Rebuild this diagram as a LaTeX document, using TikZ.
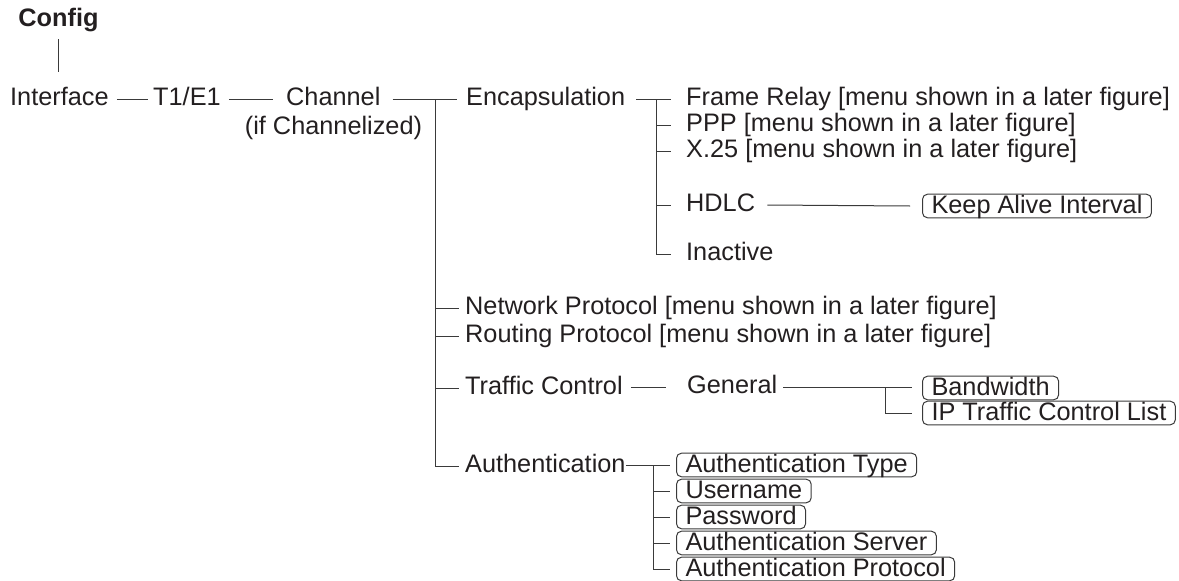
\documentclass[tikz,border=0pt]{standalone}
\usepackage{fontspec}
\setmainfont{Liberation Sans}
\definecolor{txt}{HTML}{231F20}
\definecolor{linec}{HTML}{3A3A3A}
\newcommand{\fs}{\fontsize{25.3pt}{29pt}\selectfont}
\begin{document}
\begin{tikzpicture}[x=1pt,y=-1pt,
  lbl/.style={anchor=west, inner sep=0pt, text height=13pt, text depth=0pt, font=\fs, text=txt},
  box/.style={anchor=west, draw=linec, line width=1pt, rounded corners=5pt, inner xsep=9pt, inner ysep=1pt, text height=18pt, text depth=3.6pt, font=\fs, text=txt},
  ln/.style={line width=1pt, draw=linec}]
\path[use as bounding box] (0,0) rectangle (1179,581);

% top level
\node[inner sep=0pt, anchor=base, font=\fs\bfseries, text=txt] (config) at (58.5,26) {Config};
\node[lbl] (interface) at (10,99) {Interface};
\node[lbl] (t1) at (153,99) {T1/E1};
\node[lbl] (channel) at (286,99) {Channel};
\node[lbl, anchor=center] (chnote) at (333.5,128) {(if Channelized)};

\draw[ln] ([yshift=-13pt]config.base) -- ([yshift=20pt]interface.north -| config.base);
\draw[ln] ([xshift=8pt]interface.east) -- ([xshift=-5pt]t1.west);
\draw[ln] ([xshift=8pt]t1.east) -- ([xshift=-13pt]channel.west);

% channel subtree
\node[lbl] (encap) at (466,99) {Encapsulation};
\node[lbl] (netp) at (465,308) {Network Protocol [menu shown in a later figure]};
\node[lbl] (routp) at (465,336) {Routing Protocol [menu shown in a later figure]};
\node[lbl] (traffic) at (465,388) {Traffic Control};
\node[lbl] (auth) at (465,466) {Authentication};

\coordinate (chsplit) at (435,99);
\draw[ln] ([xshift=12pt]channel.east) -- ([xshift=-9pt]encap.west);
\draw[ln] (chsplit) |- ([xshift=-6pt]auth.west);
\foreach \n in {netp,routp,traffic}
  \draw[ln] (chsplit |- \n.west) -- ([xshift=-6pt]\n.west);

% encapsulation subtree
\node[lbl] (fr) at (686,99) {Frame Relay [menu shown in a later figure]};
\node[lbl] (ppp) at (686,125) {PPP [menu shown in a later figure]};
\node[lbl] (x25) at (686,151) {X.25 [menu shown in a later figure]};
\node[lbl] (hdlc) at (686,205) {HDLC};
\node[lbl] (inactive) at (686,254) {Inactive};
\node[box] (keep) at (922,206) {Keep Alive Interval};

\coordinate (ensplit) at (656,99);
\draw[ln] ([xshift=11pt]encap.east) -- ([xshift=-15pt]fr.west);
\draw[ln] (ensplit) |- ([xshift=-15pt]inactive.west);
\foreach \n in {ppp,x25,hdlc}
  \draw[ln] (ensplit |- \n.west) -- ([xshift=-15pt]\n.west);
\draw[ln] ([xshift=12pt]hdlc.east) -- ([xshift=-12pt]keep.west);

% traffic control subtree
\node[lbl] (general) at (687,387) {General};
\node[box] (bw) at (922,388) {Bandwidth};
\node[box, inner xsep=9pt] (iptcl) at (922,413) {IP Traffic Control List};
\coordinate (gsplit) at (885,387);
\draw[ln] ([xshift=8pt]traffic.east |- general.west) -- ([xshift=-21pt]general.west);
\draw[ln] ([xshift=6pt]general.east) -- ([xshift=-10pt]bw.west |- general.west);
\draw[ln] (gsplit) |- ([xshift=-10pt]iptcl.west);

% authentication subtree
\node[box] (atype) at (676,465) {Authentication Type};
\node[box] (user) at (676,491) {Username};
\node[box] (pass) at (676,517) {Password};
\node[box] (aserver) at (676,543) {Authentication Server};
\node[box] (aproto) at (676,569) {Authentication Protocol};
\coordinate (asplit) at (653,465);
\draw[ln] (auth.east |- atype.west) -- ([xshift=-6pt]atype.west);
\draw[ln] (asplit) |- ([xshift=-6pt]aproto.west);
\foreach \n in {user,pass,aserver}
  \draw[ln] (asplit |- \n.west) -- ([xshift=-6pt]\n.west);
\end{tikzpicture}
\end{document}
